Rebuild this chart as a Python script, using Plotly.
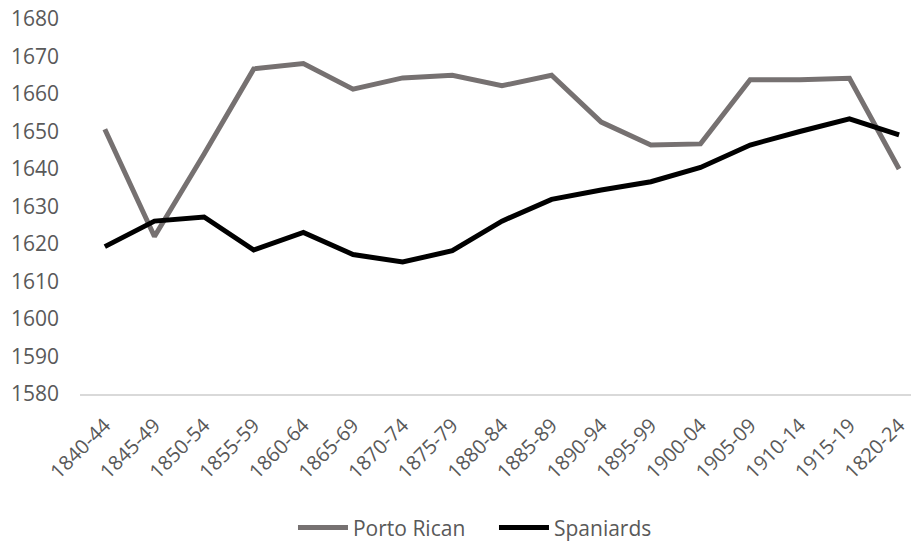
import plotly.graph_objects as go

periods = ["1840-44", "1845-49", "1850-54", "1855-59", "1860-64", "1865-69",
           "1870-74", "1875-79", "1880-84", "1885-89", "1890-94", "1895-99",
           "1900-04", "1905-09", "1910-14", "1915-19", "1820-24"]
porto_rican = [1650.6, 1622.0, 1644.0, 1666.7, 1668.1, 1661.3, 1664.3, 1665.0,
               1662.2, 1665.0, 1652.5, 1646.4, 1646.7, 1663.8, 1663.8, 1664.2, 1640.0]
spaniards = [1619.3, 1626.1, 1627.2, 1618.4, 1623.1, 1617.2, 1615.2, 1618.2,
             1626.1, 1631.9, 1634.4, 1636.6, 1640.4, 1646.4, 1650.0, 1653.4, 1649.1]
y_ticks = list(range(1580, 1681, 10))

TEXT = "#595959"
FONT = "Open Sans"

fig = go.Figure()
fig.add_trace(go.Scatter(x=periods, y=porto_rican, mode="lines", name="Porto Rican",
                         line=dict(color="#767171", width=5)))
fig.add_trace(go.Scatter(x=periods, y=spaniards, mode="lines", name="Spaniards",
                         line=dict(color="#000000", width=5)))

fig.update_layout(
    width=911, height=541,
    margin=dict(l=80, r=0, t=19, b=147, autoexpand=False),
    paper_bgcolor="white", plot_bgcolor="white",
    font=dict(family=FONT, size=21, color=TEXT),
    showlegend=True,
    legend=dict(orientation="h", x=0.2563, xanchor="left", y=-0.357, yanchor="middle",
                font=dict(family=FONT, size=21, color=TEXT), itemwidth=50,
                entrywidth=136, entrywidthmode="pixels"),
    xaxis=dict(type="category", range=[-0.5, 16.24], showgrid=False, automargin=False,
               showline=True, linecolor="#d9d9d9", linewidth=1.5,
               ticks="", tickangle=-45, ticklabelstandoff=10,
               tickfont=dict(size=20, color=TEXT)),
    yaxis=dict(range=[1580, 1680], tickvals=y_ticks, showgrid=False, zeroline=False,
               showline=False, ticks="", ticklabelstandoff=20, automargin=False,
               tickfont=dict(size=21, color=TEXT)),
)

fig.write_html("out.html")
